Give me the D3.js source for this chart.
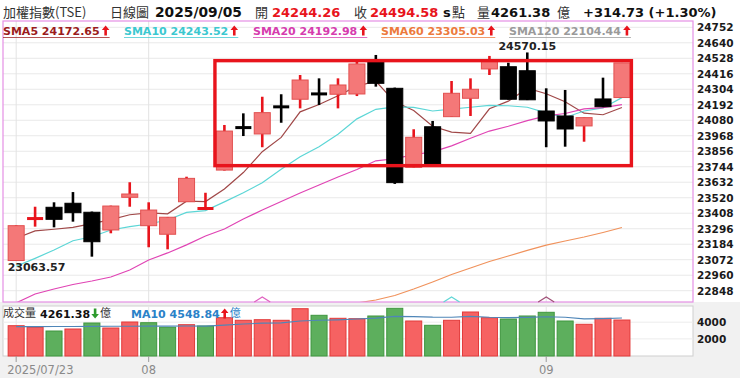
<!DOCTYPE html>
<html>
<head>
<meta charset="utf-8">
<script src="https://cdn.jsdelivr.net/npm/d3@7"></script>
<style>
  body { margin: 0; background: #fff; }
  #chart svg { display: block; }
</style>
</head>
<body>
<div id="chart"></div>
<script>
// trading days shown (2025/07/23 .. 2025/09/05)
const dates = [
  "07/23", "07/24", "07/25", "07/28", "07/29", "07/30", "07/31",
  "08/01", "08/04", "08/05", "08/06", "08/07", "08/08", "08/11", "08/12",
  "08/13", "08/14", "08/15", "08/18", "08/19", "08/20", "08/21", "08/22",
  "08/25", "08/26", "08/27", "08/28", "08/29",
  "09/01", "09/02", "09/03", "09/04", "09/05"
];

const open = [
  23066, 23368, 23451, 23480, 23415, 23287, 23523, 23318, 23256, 23491, 23440,
  23720, 24030, 23981, 24180, 24232, 24273, 24268, 24270, 24503, 24311, 23740,
  24033, 24106, 24239, 24451, 24467, 24438, 24147, 24111, 24039, 24234, 24244.26
];
const high = [
  23322, 23455, 23487, 23561, 23420, 23463, 23632, 23487, 23381, 23672, 23556,
  24046, 24130, 24250, 24268, 24407, 24383, 24383, 24503, 24552, 24316, 24015,
  24075, 24364, 24383, 24545, 24496, 24570.15, 24311, 24299, 24100, 24388, 24494.58
];
const low = [
  23063.57, 23311, 23306, 23347, 23094, 23263, 23455, 23162, 23147, 23489, 23431,
  23716, 23966, 23885, 24062, 24166, 24190, 24166, 24255, 24323, 23620, 23736,
  23760, 24104, 24111, 24407, 24229, 24226, 23885, 23889, 23925, 24175, 24244.26
];
const close = [
  23318, 23371, 23364, 23412, 23202, 23460, 23547, 23431, 23379, 23660, 23444,
  24002, 24024, 24135, 24174, 24371, 24268, 24335, 24487, 24347, 23629, 23957,
  23764, 24275, 24304, 24516, 24232, 24228, 24075, 24017, 24099, 24178, 24494.58
];

const sma5 = [
  23227, 23280, 23292, 23306, 23333, 23362, 23397, 23410, 23404, 23495, 23492,
  23583, 23702, 23853, 23956, 24141, 24194, 24257, 24327, 24362, 24213, 24151,
  24037, 23994, 23986, 24163, 24218, 24312, 24272, 24214, 24131, 24120, 24172.65
];
const sma10 = [
  23025, 23082, 23142, 23209, 23238, 23287, 23311, 23330, 23359, 23414, 23427,
  23490, 23556, 23628, 23726, 23817, 23889, 23979, 24090, 24159, 24177, 24173,
  24147, 24161, 24174, 24188, 24185, 24174, 24133, 24100, 24147, 24169, 24243.52
];
const sma20 = [
  22760, 22824, 22860, 22893, 22918, 22947, 22998, 23070, 23121, 23179, 23243,
  23294, 23366, 23431, 23493, 23554, 23612, 23670, 23724, 23787, 23802, 23831,
  23851, 23895, 23950, 24002, 24037, 24077, 24112, 24129, 24162, 24171, 24192.98
];
const sma60 = [
  null, null, null, null, null, null, null, null, null, null, null,
  null, null, null, null, null, null, 22735, 22759, 22781, 22813, 22860,
  22911, 22965, 23012, 23059, 23099, 23139, 23178, 23207, 23236, 23269, 23305.03
];

// volume in 億, 1 = up day (red), 0 = down day (green)
const volume = [
  3581, 3389, 2946, 3186, 3904, 3305, 4024, 3940, 3389, 3701, 3545,
  4539, 4228, 4299, 4228, 5617, 4826, 4467, 4419, 4743, 5665, 4144,
  3629, 4228, 5222, 4539, 4383, 4743, 5186, 4144, 3749, 4467, 4261.38
];
const volumeUp = [
  1, 1, 0, 1, 0, 1, 1, 0, 0, 1, 0,
  1, 1, 1, 1, 1, 0, 1, 1, 0, 0, 1,
  0, 1, 1, 1, 0, 0, 0, 0, 1, 1, 1
];
const volumeMa10 = [
  3470, 3476, 3482, 3490, 3500, 3510, 3520, 3528, 3534, 3537, 3533,
  3648, 3776, 3887, 3920, 4151, 4231, 4284, 4387, 4491, 4703, 4664,
  4604, 4597, 4696, 4588, 4544, 4572, 4648, 4588, 4397, 4429, 4500
];

const priceTicks = [
  24752, 24640, 24528, 24416, 24304, 24192, 24080, 23968, 23856,
  23744, 23632, 23520, 23408, 23296, 23184, 23072, 22960, 22848
];
const volumeTicks = [4000, 2000];
const monthTicks = ["07/23", "08/01", "09/01"];
const monthLabels = ["2025/07/23", "08", "09"];

const maNames = ["SMA5", "SMA10", "SMA20", "SMA60", "SMA120"];
const maLast = [24172.65, 24243.52, 24192.98, 23305.03, 22104.44];

// highlighted range (red frame) and cross markers on the bottom edge
const boxDates = ["08/06", "09/05"];
const boxPrices = [23752, 24511];
const crossDates = ["08/11", "08/25", "09/01"];

class KLineVis {
  constructor(_parentElement) {
    this.parentElement = _parentElement;
    this.initVis();
  }

  initVis() {
    let vis = this;

    vis.width = 740;
    vis.height = 378;
    vis.main = { left: 3, right: 693, top: 21, bottom: 302 };
    vis.vol = { left: 3, right: 693, top: 306, bottom: 356 };

    vis.svg = d3
      .select("#" + vis.parentElement)
      .append("svg")
      .attr("width", vis.width)
      .attr("height", vis.height)
      .style("font-family", "'DejaVu Sans', Verdana, sans-serif");

    vis.x = d3
      .scaleBand()
      .domain(dates)
      .range([6.7, 631.4])
      .paddingInner(0.1)
      .paddingOuter(0.05);
    vis.cx = (d) => vis.x(d) + vis.x.bandwidth() / 2;

    vis.y = d3.scaleLinear().domain([22848, 24752]).range([290.7, 27.3]);
    vis.yVol = d3.scaleLinear().domain([0, 4000]).range([355.6, 322.2]);

    vis.colors = {
      upBody: "#f47878",
      upEdge: "#e25050",
      upWick: "#e8141c",
      down: "#000",
      volUp: "#f66262",
      volUpEdge: "#e23a3a",
      volDown: "#5daf5d",
      volDownEdge: "#3f963f",
      ma: ["#a04848", "#5cd6d6", "#e044b4", "#f0925c", "#9a9a9a"],
      maText: ["#9b1c1c", "#3cc8d0", "#d63cae", "#ec7a3c", "#9a9a9a"],
      cross: ["#e060c0", "#60d6d6", "#a05078"],
    };

    // backgrounds
    vis.svg.append("rect").attr("width", vis.width).attr("height", vis.height).attr("fill", "#fff");
    vis.svg
      .append("rect")
      .attr("y", vis.main.bottom)
      .attr("width", vis.width)
      .attr("height", vis.height - vis.main.bottom)
      .attr("fill", "#f1f1f1");
    vis.svg
      .append("rect")
      .attr("x", vis.vol.left)
      .attr("y", vis.vol.top)
      .attr("width", vis.vol.right - vis.vol.left)
      .attr("height", vis.vol.bottom - vis.vol.top)
      .attr("fill", "#fff")
      .attr("stroke", "#cfcfcf");

    vis.svg
      .append("clipPath")
      .attr("id", "main-clip")
      .append("rect")
      .attr("x", vis.main.left)
      .attr("y", vis.main.top)
      .attr("width", vis.main.right - vis.main.left)
      .attr("height", vis.main.bottom - vis.main.top);

    vis.gridGroup = vis.svg.append("g").attr("class", "grid");
    vis.volGroup = vis.svg.append("g").attr("class", "volume");
    vis.plotGroup = vis.svg.append("g").attr("class", "plot").attr("clip-path", "url(#main-clip)");
    vis.lineGroup = vis.plotGroup.append("g").attr("class", "ma-lines");
    vis.candleGroup = vis.plotGroup.append("g").attr("class", "candles");
    vis.annoGroup = vis.svg.append("g").attr("class", "annotations");
    vis.textGroup = vis.svg.append("g").attr("class", "texts");

    vis.wrangleData();
  }

  wrangleData() {
    let vis = this;

    vis.displayData = dates.map((d, i) => ({
      date: d,
      open: open[i],
      high: high[i],
      low: low[i],
      close: close[i],
      up: close[i] >= open[i],
      volume: volume[i],
      volumeUp: volumeUp[i] === 1,
    }));

    vis.maSeries = [sma5, sma10, sma20, sma60];

    vis.updateVis();
  }

  arrow(g, x, yc, up, color) {
    let p = up
      ? `M${x},${yc - 5} L${x + 3.8},${yc - 0.5} L${x + 1.3},${yc - 0.5} L${x + 1.3},${yc + 5} L${x - 1.3},${yc + 5} L${x - 1.3},${yc - 0.5} L${x - 3.8},${yc - 0.5} Z`
      : `M${x},${yc + 5} L${x + 3.8},${yc + 0.5} L${x + 1.3},${yc + 0.5} L${x + 1.3},${yc - 5} L${x - 1.3},${yc - 5} L${x - 1.3},${yc + 0.5} L${x - 3.8},${yc + 0.5} Z`;
    g.append("path").attr("d", p).attr("fill", color);
  }

  updateVis() {
    let vis = this;
    let m = vis.main;

    // grid lines
    vis.gridGroup
      .selectAll(".hgrid")
      .data(priceTicks)
      .join("line")
      .attr("class", "hgrid")
      .attr("x1", m.left)
      .attr("x2", m.right)
      .attr("y1", (d) => vis.y(d))
      .attr("y2", (d) => vis.y(d))
      .attr("stroke", "#e9e9e9");

    vis.gridGroup
      .selectAll(".vgrid")
      .data(monthTicks)
      .join("line")
      .attr("class", "vgrid")
      .attr("x1", (d) => vis.cx(d))
      .attr("x2", (d) => vis.cx(d))
      .attr("y1", m.top)
      .attr("y2", m.bottom)
      .attr("stroke", "#e3e3e3");

    vis.gridGroup
      .selectAll(".vvgrid")
      .data(monthTicks)
      .join("line")
      .attr("class", "vvgrid")
      .attr("x1", (d) => vis.cx(d))
      .attr("x2", (d) => vis.cx(d))
      .attr("y1", vis.vol.top)
      .attr("y2", vis.vol.bottom)
      .attr("stroke", "#e6e6e6");

    vis.gridGroup
      .selectAll(".volgrid")
      .data(volumeTicks)
      .join("line")
      .attr("class", "volgrid")
      .attr("x1", vis.vol.left)
      .attr("x2", vis.vol.right)
      .attr("y1", (d) => vis.yVol(d))
      .attr("y2", (d) => vis.yVol(d))
      .attr("stroke", "#ececec");

    // right price axis
    let yAxis = d3.axisRight(vis.y).tickValues(priceTicks).tickSize(0).tickPadding(4).tickFormat(d3.format("d"));
    vis.svg
      .append("g")
      .attr("transform", `translate(${m.right},0)`)
      .call(yAxis)
      .call((g) => g.select(".domain").remove())
      .selectAll("text")
      .attr("fill", "#1a1a1a")
      .attr("font-weight", "bold")
      .attr("font-size", "10.5px")
      .attr("font-family", "'DejaVu Sans', sans-serif");

    let volAxis = d3.axisRight(vis.yVol).tickValues(volumeTicks).tickSize(0).tickPadding(4).tickFormat(d3.format("d"));
    vis.svg
      .append("g")
      .attr("transform", `translate(${vis.vol.right},0)`)
      .call(volAxis)
      .call((g) => g.select(".domain").remove())
      .selectAll("text")
      .attr("fill", "#1a1a1a")
      .attr("font-weight", "bold")
      .attr("font-size", "10.5px")
      .attr("font-family", "'DejaVu Sans', sans-serif");

    // bottom date axis
    let xAxis = d3
      .axisBottom(vis.x)
      .tickValues(monthTicks)
      .tickSize(6)
      .tickPadding(4)
      .tickFormat((d, i) => monthLabels[i]);
    let xg = vis.svg
      .append("g")
      .attr("transform", `translate(0,${vis.vol.bottom})`)
      .call(xAxis);
    xg.select(".domain").remove();
    xg.selectAll("line").attr("stroke", "#9a9a9a");
    xg.selectAll("text")
      .attr("fill", "#8a8a8a")
      .attr("font-size", "11.5px")
      .attr("font-family", "'DejaVu Sans', sans-serif")
      .attr("text-anchor", (d, i) => (i === 0 ? "start" : "middle"))
      .attr("x", (d, i) => (i === 0 ? -9 : 0));

    // volume bars
    vis.volGroup
      .selectAll(".vol-bar")
      .data(vis.displayData)
      .join("rect")
      .attr("class", "vol-bar")
      .attr("x", (d) => vis.x(d.date) + 0.5)
      .attr("width", vis.x.bandwidth() - 1)
      .attr("y", (d) => vis.yVol(d.volume))
      .attr("height", (d) => vis.vol.bottom - vis.yVol(d.volume))
      .attr("fill", (d) => (d.volumeUp ? vis.colors.volUp : vis.colors.volDown))
      .attr("stroke", (d) => (d.volumeUp ? vis.colors.volUpEdge : vis.colors.volDownEdge))
      .attr("stroke-width", 1);

    let volLine = d3
      .line()
      .x((d, i) => vis.cx(dates[i]))
      .y((d) => vis.yVol(d));
    vis.volGroup
      .append("path")
      .attr("d", volLine(volumeMa10))
      .attr("fill", "none")
      .attr("stroke", "#4f86b8")
      .attr("stroke-width", 1.1);

    // moving averages
    let maLine = d3
      .line()
      .defined((d) => d != null)
      .x((d, i) => vis.cx(dates[i]))
      .y((d) => vis.y(d));
    vis.lineGroup
      .selectAll(".ma")
      .data(vis.maSeries)
      .join("path")
      .attr("class", "ma")
      .attr("d", (d) => maLine(d))
      .attr("fill", "none")
      .attr("stroke", (d, i) => vis.colors.ma[i])
      .attr("stroke-width", 1.2);

    // candles
    let bw = vis.x.bandwidth();
    let candle = vis.candleGroup
      .selectAll(".candle")
      .data(vis.displayData)
      .join("g")
      .attr("class", "candle");

    candle
      .append("line")
      .attr("x1", (d) => vis.cx(d.date))
      .attr("x2", (d) => vis.cx(d.date))
      .attr("y1", (d) => vis.y(d.high))
      .attr("y2", (d) => vis.y(d.low))
      .attr("stroke", (d) => (d.up ? vis.colors.upWick : vis.colors.down))
      .attr("stroke-width", 2.6);

    candle.each(function (d) {
      let g = d3.select(this);
      let top = vis.y(Math.max(d.open, d.close));
      let bot = vis.y(Math.min(d.open, d.close));
      if (bot - top < 2) {
        g.append("line")
          .attr("x1", vis.x(d.date) + 0.5)
          .attr("x2", vis.x(d.date) + bw - 0.5)
          .attr("y1", (top + bot) / 2)
          .attr("y2", (top + bot) / 2)
          .attr("stroke", d.up ? vis.colors.upWick : vis.colors.down)
          .attr("stroke-width", 3);
      } else {
        g.append("rect")
          .attr("x", vis.x(d.date) + 0.5)
          .attr("width", bw - 1)
          .attr("y", top)
          .attr("height", bot - top)
          .attr("fill", d.up ? vis.colors.upBody : vis.colors.down)
          .attr("stroke", d.up ? vis.colors.upEdge : vis.colors.down)
          .attr("stroke-width", 1);
      }
    });

    // frame of the plot
    vis.annoGroup
      .append("rect")
      .attr("x", m.left)
      .attr("y", m.top)
      .attr("width", m.right - m.left)
      .attr("height", m.bottom - m.top)
      .attr("fill", "none")
      .attr("stroke", "#e58fe5")
      .attr("stroke-width", 1.2);

    // cross markers on the bottom edge
    vis.annoGroup
      .selectAll(".cross")
      .data(crossDates)
      .join("path")
      .attr("class", "cross")
      .attr("d", (d) => {
        let c = vis.cx(d);
        return `M${c - 8},${m.bottom} L${c},${m.bottom - 5} L${c + 8},${m.bottom}`;
      })
      .attr("fill", "none")
      .attr("stroke", (d, i) => vis.colors.cross[i])
      .attr("stroke-width", 1.2);

    // highlight frame
    let step = vis.x.step();
    vis.annoGroup
      .append("rect")
      .attr("x", vis.cx(boxDates[0]) + step / 2)
      .attr("y", vis.y(boxPrices[1]))
      .attr("width", vis.cx(boxDates[1]) - vis.cx(boxDates[0]))
      .attr("height", vis.y(boxPrices[0]) - vis.y(boxPrices[1]))
      .attr("fill", "none")
      .attr("stroke", "#e8141c")
      .attr("stroke-width", 3.4);

    // max / min labels
    let hiI = d3.maxIndex(high);
    let loI = d3.minIndex(low);
    vis.annoGroup
      .append("text")
      .attr("x", vis.cx(dates[hiI]))
      .attr("y", vis.y(high[hiI]) - 2)
      .attr("text-anchor", "middle")
      .attr("font-size", "11px")
      .attr("font-weight", "bold")
      .attr("fill", "#222")
      .text(d3.format(".2f")(high[hiI]));
    vis.annoGroup
      .append("text")
      .attr("x", vis.x(dates[loI]))
      .attr("y", vis.y(low[loI]) + 10)
      .attr("font-size", "11px")
      .attr("font-weight", "bold")
      .attr("fill", "#222")
      .text(d3.format(".2f")(low[loI]));

    vis.drawHeader();
  }

  drawHeader() {
    let vis = this;
    let t = vis.textGroup;
    let cjk = "'Noto Sans CJK TC', 'Noto Sans CJK SC', sans-serif";
    let num = "'DejaVu Sans', Verdana, sans-serif";
    let last = dates.length - 1;

    let row1 = [
      { x: 3, text: "加權指數(TSE)", font: cjk, size: 13, color: "#333", bold: false },
      { x: 110, text: "日線圖", font: cjk, size: 13, color: "#333", bold: false },
      { x: 155, text: "2025/09/05", font: num, size: 13.8, color: "#111", bold: true },
      { x: 255, text: "開", font: cjk, size: 13, color: "#333", bold: false },
      { x: 272, text: d3.format(".2f")(open[last]), font: num, size: 13, color: "#e8141c", bold: true },
      { x: 354, text: "收", font: cjk, size: 13, color: "#333", bold: false },
      { x: 370, text: d3.format(".2f")(close[last]), font: num, size: 13, color: "#e8141c", bold: true },
      { x: 443, text: "s", font: num, size: 13, color: "#111", bold: true },
      { x: 452, text: "點", font: cjk, size: 13, color: "#333", bold: false },
      { x: 477, text: "量", font: cjk, size: 13, color: "#333", bold: false },
      { x: 491, text: d3.format(".2f")(volume[last]), font: num, size: 13, color: "#111", bold: true },
      { x: 557, text: "億", font: cjk, size: 13, color: "#333", bold: false },
      { x: 583, text: "+314.73 (+1.30%)", font: num, size: 13, color: "#111", bold: true },
    ];
    row1.forEach((r) => {
      t.append("text")
        .attr("x", r.x)
        .attr("y", 17)
        .attr("font-family", r.font)
        .attr("font-size", r.size + "px")
        .attr("font-weight", r.bold ? "bold" : "normal")
        .attr("fill", r.color)
        .text(r.text);
    });

    // moving average legend
    let maX = [3, 124, 253, 381, 509];
    maNames.forEach((name, i) => {
      let txt = t
        .append("text")
        .attr("x", maX[i])
        .attr("y", 35)
        .attr("font-family", num)
        .attr("font-size", "11px")
        .attr("font-weight", "bold")
        .attr("fill", vis.colors.maText[i])
        .text(`${name} ${d3.format(".2f")(maLast[i])}`);
      let w = txt.node().getComputedTextLength();
      vis.arrow(t, maX[i] + w + 6, 30.5, true, "#e8141c");
      t.append("line")
        .attr("x1", maX[i])
        .attr("x2", maX[i] + w + 10)
        .attr("y1", 37.5)
        .attr("y2", 37.5)
        .attr("stroke", vis.colors.maText[i])
        .attr("stroke-opacity", 0.75)
        .attr("stroke-width", 1);
    });

    // volume legend
    t.append("text")
      .attr("x", 3)
      .attr("y", 317)
      .attr("font-family", cjk)
      .attr("font-size", "11px")
      .attr("fill", "#333")
      .text("成交量");
    let v = t
      .append("text")
      .attr("x", 40)
      .attr("y", 317.5)
      .attr("font-family", num)
      .attr("font-size", "11px")
      .attr("font-weight", "bold")
      .attr("fill", "#111")
      .text(d3.format(".2f")(volume[last]));
    let vw = v.node().getComputedTextLength();
    vis.arrow(t, 40 + vw + 5, 313.5, false, "#2e9a2e");
    t.append("text")
      .attr("x", 40 + vw + 10)
      .attr("y", 317)
      .attr("font-family", cjk)
      .attr("font-size", "11px")
      .attr("fill", "#333")
      .text("億");

    let ma = t
      .append("text")
      .attr("x", 131)
      .attr("y", 317.5)
      .attr("font-family", num)
      .attr("font-size", "11px")
      .attr("font-weight", "bold")
      .attr("fill", "#2a82c8")
      .text("MA10 4548.84");
    let mw = ma.node().getComputedTextLength();
    vis.arrow(t, 131 + mw + 5, 313.5, true, "#e8141c");
    t.append("text")
      .attr("x", 131 + mw + 10)
      .attr("y", 317)
      .attr("font-family", cjk)
      .attr("font-size", "11px")
      .attr("fill", "#2a82c8")
      .text("億");
  }
}

new KLineVis("chart");
</script>
</body>
</html>
